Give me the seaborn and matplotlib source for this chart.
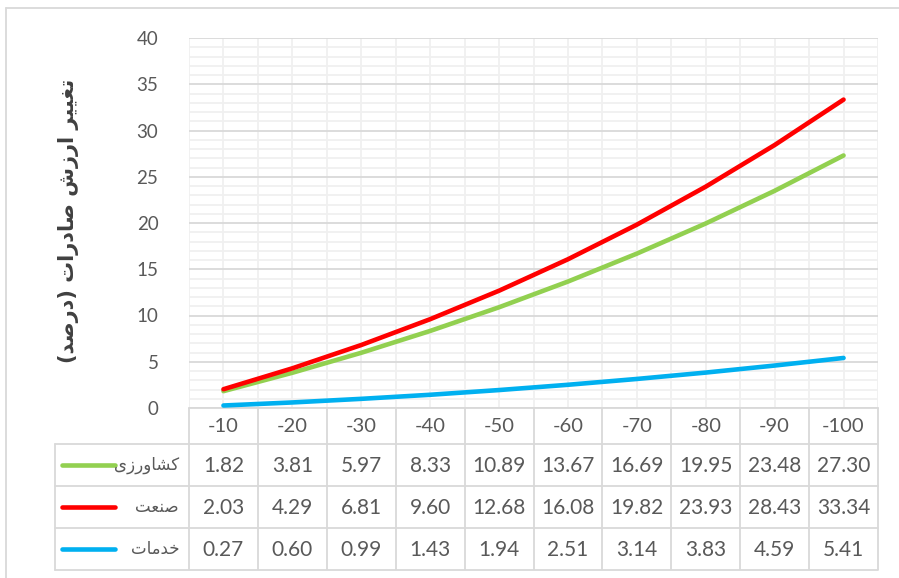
import numpy as np
import pandas as pd
import matplotlib
matplotlib.use("Agg")
import matplotlib.pyplot as plt
import matplotlib.transforms as mtransforms
import seaborn as sns

# ---------------- data ----------------
categories = ["-10", "-20", "-30", "-40", "-50", "-60", "-70", "-80", "-90", "-100"]
agriculture = [1.82, 3.81, 5.97, 8.33, 10.89, 13.67, 16.69, 19.95, 23.48, 27.30]
industry = [2.03, 4.29, 6.81, 9.60, 12.68, 16.08, 19.82, 23.93, 28.43, 33.34]
services = [0.27, 0.60, 0.99, 1.43, 1.94, 2.51, 3.14, 3.83, 4.59, 5.41]
# Persian labels (presentation forms, visual order so they render joined and RTL)
series_labels = [
    "\uFBFC\uFEAF\uFEAD\uFEED\uFE8E\uFEB8\uFB90",   # کشاورزی
    "\uFE96\uFECC\uFEE8\uFEBB",                     # صنعت
    "\uFE95\uFE8E\uFEE3\uFEAA\uFEA7",               # خدمات
]
y_label = ("(\uFEAA\uFEBB\uFEAD\uFEA9) "
           "\uFE95\uFE8D\uFEAD\uFEA9\uFE8E\uFEBB "
           "\uFEB5\uFEAF\uFEAD\uFE8D "
           "\uFEAE\uFEF4\uFEF4\uFED0\uFE97")            # تغییر ارزش صادرات (درصد)
y_ticks = [0, 5, 10, 15, 20, 25, 30, 35, 40]
colors = ["#92D050", "#FF0000", "#00B0F0"]

series_values = [agriculture, industry, services]
df = pd.DataFrame({
    "pos": np.tile(np.arange(len(categories)), 3),
    "value": np.concatenate(series_values),
    "series": np.repeat(series_labels, len(categories)),
})

# ---------------- figure ----------------
W, H = 899, 578
sns.set_theme(style="white")
plt.rcParams["font.family"] = ["Lato", "DejaVu Sans"]
fig = plt.figure(figsize=(W / 100, H / 100), dpi=100)
fig.patch.set_facecolor("white")

def fx(px):
    return px / W

def fy(py):
    return 1 - py / H

L, R, T, B = 189, 878, 38, 408
ax = fig.add_axes([fx(L), fy(B), fx(R) - fx(L), fy(T) - fy(B)])
ax.set_facecolor("white")

sns.lineplot(data=df, x="pos", y="value", hue="series", hue_order=series_labels,
             palette=colors, linewidth=3.3, legend=False, ax=ax,
             solid_capstyle="round", zorder=5)

ax.set_xlim(-0.5, len(categories) - 0.5)
ax.set_ylim(0, 40)
ax.set_yticks(y_ticks)
ax.set_yticks(np.arange(0, 41, 1), minor=True)
ax.set_xticks([])
ax.set_xticks(np.arange(-0.5, len(categories), 0.5), minor=True)
ax.set_yticklabels([str(t) for t in y_ticks], fontsize=13.5, color="#595959")
ax.tick_params(axis="y", which="both", length=0, pad=22)
ax.tick_params(axis="x", which="both", length=0, labelbottom=False)
ax.grid(which="minor", axis="both", color="#F0F0F0", linewidth=1.3, zorder=0)
ax.grid(which="major", axis="y", color="#D9D9D9", linewidth=1.3, zorder=1)
ax.set_axisbelow(True)
for s in ["top", "right", "left"]:
    ax.spines[s].set_visible(False)
ax.spines["bottom"].set_color("#D9D9D9")
ax.spines["bottom"].set_linewidth(1.3)
ax.set_xlabel("")
ax.set_ylabel("")

# y axis title
fig.text(fx(69), fy(221), y_label, rotation=90, ha="center", va="center",
         fontsize=15, fontweight="bold", color="#404040",
         family=["DejaVu Sans"])

# ---------------- data table ----------------
over = fig.add_axes([0, 0, 1, 1], facecolor="none")
over.set_xlim(0, W)
over.set_ylim(H, 0)
over.axis("off")
blend = mtransforms.blended_transform_factory(ax.transData, over.transData)

grid_c = "#D9D9D9"
row_edges = [408, 444, 486, 528, 570]
key_left = 55
n = len(categories)
# vertical lines in table
for b in np.arange(-0.5, n, 1.0):
    over.plot([b, b], [row_edges[0], row_edges[-1]], color=grid_c, lw=1.3,
              transform=blend, solid_capstyle="butt")
over.plot([key_left, key_left], [row_edges[1], row_edges[-1]], color=grid_c, lw=1.3)
# horizontal lines
for yy in row_edges[1:]:
    over.plot([key_left, R], [yy, yy], color=grid_c, lw=1.3)

# category row
for i, c in enumerate(categories):
    over.text(i, (row_edges[0] + row_edges[1]) / 2 + 1, c, transform=blend,
              ha="center", va="center", fontsize=14.5, color="#595959")

# value rows
for r, (vals, lab, col) in enumerate(zip(series_values, series_labels, colors)):
    yc = (row_edges[r + 1] + row_edges[r + 2]) / 2
    for i, v in enumerate(vals):
        over.text(i, yc + 1, f"{v:.2f}", transform=blend, ha="center", va="center",
                  fontsize=15, color="#595959")
    over.plot([62, 115], [yc, yc], color=col, lw=3.3, solid_capstyle="round")
    over.text(179, yc, lab, ha="right", va="center", fontsize=12, color="#595959",
              family=["DejaVu Sans"])

# outer chart frame
over.plot([6, W], [8, 8], color=grid_c, lw=1.3)
over.plot([6, 6], [8, H], color=grid_c, lw=1.3)

fig.savefig("out.png", dpi=100, facecolor="white")
